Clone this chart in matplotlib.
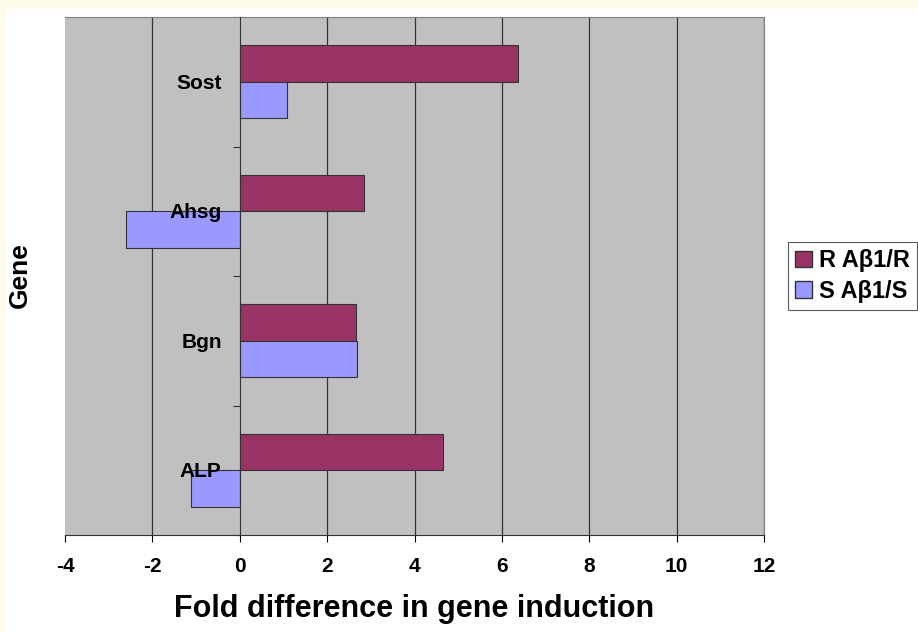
import matplotlib.pyplot as plt
import matplotlib.patches as mpatches
import numpy as np

plt.rcParams['font.family'] = ['Liberation Sans', 'DejaVu Sans']
plt.rcParams['font.weight'] = 'bold'
plt.rcParams['axes.unicode_minus'] = False

genes = ['ALP', 'Bgn', 'Ahsg', 'Sost']
r_vals = [4.65, 2.65, 2.84, 6.36]
s_vals = [-1.12, 2.68, -2.61, 1.08]
series_names = ['R A\u03b21/R', 'S A\u03b21/S']
colors = ['#993366', '#9999ff']

fig = plt.figure(figsize=(9.18, 6.32), dpi=100, facecolor='#fffbea')
fig.patches.append(mpatches.Rectangle((5 / 918, 0), 1, 1 - 9 / 632, transform=fig.transFigure,
                                      facecolor='white', edgecolor='none', zorder=-1))
ax = fig.add_axes([65 / 918, 97 / 632, 699 / 918, 518 / 632])
ax.set_facecolor('#c0c0c0')

y = np.arange(len(genes))
h = 0.28
ax.barh(y + h / 2, r_vals, height=h, color=colors[0], edgecolor='#333333', linewidth=0.8,
        label=series_names[0], zorder=3)
ax.barh(y - h / 2, s_vals, height=h, color=colors[1], edgecolor='#333333', linewidth=0.8,
        label=series_names[1], zorder=3)

ax.set_xlim(-4, 12)
ax.set_ylim(-0.5, len(genes) - 0.5)
ax.set_xticks(np.arange(-4, 13, 2))
ax.tick_params(axis='x', labelsize=15, length=5, direction='out', pad=11)
for xv in np.arange(-2, 13, 2):
    if xv != 0:
        ax.axvline(xv, color='#333333', linewidth=0.9, zorder=1)

# category axis at zero
ax.spines['left'].set_position(('data', 0))
ax.spines['left'].set_color('#333333')
ax.spines['left'].set_zorder(4)
ax.set_yticks(np.arange(-0.5, len(genes), 1))
ax.set_yticklabels([])
ax.tick_params(axis='y', which='major', length=5, direction='out', color='#333333')
for yi, g in zip(y, genes):
    ax.annotate(g, xy=(0, yi), xytext=(-13, -1), textcoords='offset points',
                ha='right', va='center', fontsize=15, fontweight='bold', zorder=6)
for side in ['top', 'right']:
    ax.spines[side].set_color('#808080')
ax.spines['bottom'].set_color('#333333')

ax.set_xlabel('Fold difference in gene induction', fontsize=22, fontweight='bold', labelpad=13)
fig.text(20 / 918, 1 - 275 / 632, 'Gene', rotation=90, fontsize=19, fontweight='bold',
         ha='center', va='center')

leg = ax.legend(handles=[mpatches.Patch(facecolor=colors[0], edgecolor='#333333', label=series_names[0]),
                         mpatches.Patch(facecolor=colors[1], edgecolor='#333333', label=series_names[1])],
                loc='center left', bbox_to_anchor=(788 / 918, 1 - 276 / 632), bbox_transform=fig.transFigure,
                prop={'size': 17, 'weight': 'bold'}, frameon=True, fancybox=False, edgecolor='#333333',
                handlelength=0.7, handleheight=0.7, handletextpad=0.3, borderpad=0.3,
                labelspacing=0.3, borderaxespad=0)
leg.get_frame().set_linewidth(0.8)

fig.savefig('out.png', dpi=100, facecolor=fig.get_facecolor())
